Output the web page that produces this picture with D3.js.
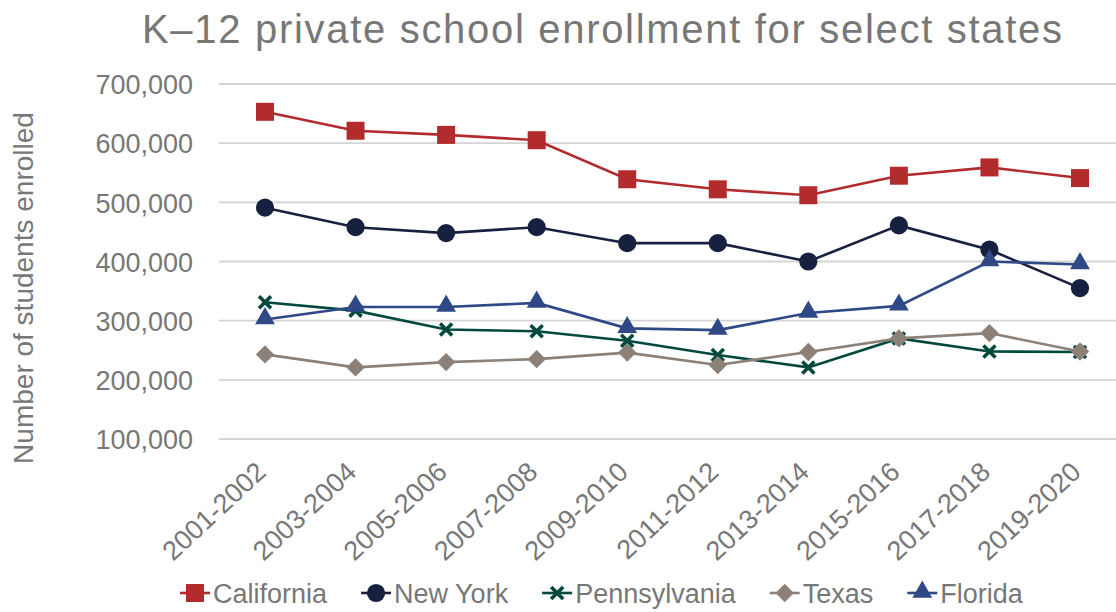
<!DOCTYPE html>
<html>
<head>
<meta charset="utf-8">
<script src="https://cdn.jsdelivr.net/npm/d3@7"></script>
<style>
  body { margin: 0; background: #fff; }
  text { font-family: "Liberation Sans", Arial, sans-serif; fill: #777; }
</style>
</head>
<body>
<svg id="chart" width="1116" height="612"></svg>
<script>
// school years on the x axis
const years = ["2001-2002", "2003-2004", "2005-2006", "2007-2008", "2009-2010",
  "2011-2012", "2013-2014", "2015-2016", "2017-2018", "2019-2020"];

// enrollment per state
const california   = [653000, 621000, 614000, 605000, 539000, 522000, 512000, 545000, 559000, 541000];
const newYork      = [491000, 458000, 448000, 458000, 431000, 431000, 400000, 461000, 420000, 355000];
const pennsylvania = [331000, 317000, 285000, 282000, 266000, 242000, 221000, 270000, 248000, 247000];
const texas        = [243000, 221000, 230000, 235000, 246000, 225000, 247000, 270000, 279000, 248000];
const florida      = [302000, 323000, 323000, 330000, 287000, 284000, 313000, 325000, 400000, 395000];

const yTicks = [100000, 200000, 300000, 400000, 500000, 600000, 700000];

const series = [
  { name: "California",   values: california,   color: "#b22b2d", shape: "square" },
  { name: "New York",     values: newYork,      color: "#17213f", shape: "circle" },
  { name: "Pennsylvania", values: pennsylvania, color: "#02493d", shape: "x" },
  { name: "Texas",        values: texas,        color: "#8c8179", shape: "diamond" },
  { name: "Florida",      values: florida,      color: "#2f4886", shape: "triangle" }
];

const svg = d3.select("#chart");

const x = d3.scalePoint().domain(years).range([265, 1080]);
const y = d3.scaleLinear().domain([100000, 700000]).range([439, 84]);

// title, stretched a bit like the original
svg.append("text")
  .attr("x", 142).attr("y", 43)
  .attr("textLength", 920)
  .attr("lengthAdjust", "spacing")
  .style("font-size", "40px")
  .text("K\u201312 private school enrollment for select states");

// gridlines
svg.append("g")
  .selectAll("line")
  .data(yTicks)
  .join("line")
  .attr("x1", 219).attr("x2", 1116)
  .attr("y1", d => y(d)).attr("y2", d => y(d))
  .attr("stroke", "#d4d4d4")
  .attr("stroke-width", 1.8);

// y axis
const yAxis = svg.append("g")
  .attr("transform", "translate(193,0)")
  .call(d3.axisLeft(y).tickValues(yTicks).tickSize(0).tickPadding(0).tickFormat(d3.format(",")));
yAxis.select(".domain").remove();
yAxis.selectAll("text")
  .style("font-size", "27px")
  .style("fill", "#777")
  .attr("dy", "0.36em");

svg.append("text")
  .attr("transform", "translate(33,288) rotate(-90)")
  .attr("text-anchor", "middle")
  .style("font-size", "28px")
  .text("Number of students enrolled");

// x axis labels, rotated so the end of each label sits under its point
const xAxis = svg.append("g")
  .attr("transform", "translate(2,474)")
  .call(d3.axisBottom(x).tickSize(0).tickPadding(0));
xAxis.select(".domain").remove();
xAxis.selectAll("text")
  .style("font-size", "27px")
  .style("fill", "#777")
  .attr("text-anchor", "end")
  .attr("y", 0)
  .attr("dy", "0em")
  .attr("transform", "rotate(-43)");

function marker(sel, shape, color) {
  if (shape === "square") {
    sel.append("path").attr("d", d3.symbol(d3.symbolSquare, 324)()).attr("fill", color);
  } else if (shape === "circle") {
    sel.append("path").attr("d", d3.symbol(d3.symbolCircle, 260)()).attr("fill", color);
  } else if (shape === "triangle") {
    sel.append("path").attr("d", d3.symbol(d3.symbolTriangle, 170)()).attr("fill", color)
      .attr("transform", "translate(0,-1)");
  } else if (shape === "diamond") {
    sel.append("path").attr("d", d3.symbol(d3.symbolSquare, 169)()).attr("fill", color)
      .attr("transform", "rotate(45)");
  } else if (shape === "x") {
    sel.append("path").attr("d", "M-6,-6L6,6M-6,6L6,-6")
      .attr("stroke", color).attr("stroke-width", 3.6).attr("fill", "none");
  }
}

const line = d3.line()
  .x((d, i) => x(years[i]))
  .y(d => y(d));

series.forEach(s => {
  const g = svg.append("g");
  g.append("path")
    .datum(s.values)
    .attr("fill", "none")
    .attr("stroke", s.color)
    .attr("stroke-width", 2.6)
    .attr("d", line);
  g.selectAll("g.pt")
    .data(s.values)
    .join("g")
    .attr("class", "pt")
    .attr("transform", (d, i) => `translate(${x(years[i])},${y(d)})`)
    .each(function () { marker(d3.select(this), s.shape, s.color); });
});

// legend
const legend = svg.append("g").attr("transform", "translate(180,593)");
let lx = 0;
series.forEach(s => {
  const item = legend.append("g").attr("transform", `translate(${lx},0)`);
  item.append("line").attr("x1", 0).attr("x2", 30).attr("y1", 0).attr("y2", 0)
    .attr("stroke", s.color).attr("stroke-width", 2.6);
  const m = item.append("g").attr("transform", "translate(15,0)");
  marker(m, s.shape, s.color);
  const t = item.append("text").attr("x", 33).attr("y", 0).attr("dy", "0.36em")
    .style("font-size", "27px").text(s.name);
  lx += 33 + t.node().getComputedTextLength() + 34;
});
</script>
</body>
</html>
